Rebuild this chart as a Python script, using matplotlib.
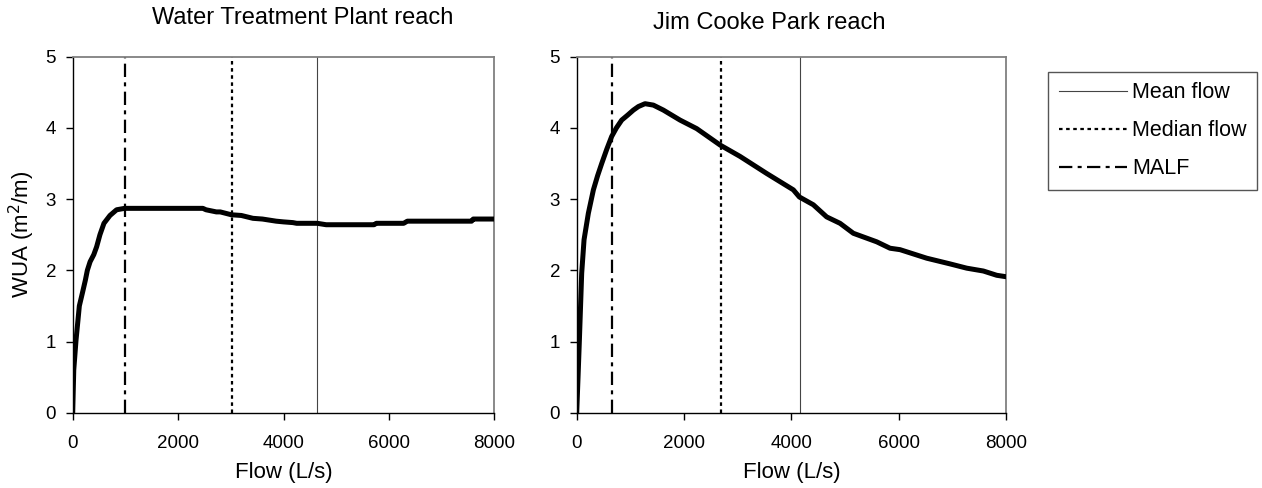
import matplotlib
matplotlib.use("Agg")
import matplotlib.pyplot as plt

plt.rcParams['font.family'] = ['Liberation Sans', 'DejaVu Sans']

# Water Treatment Plant reach
wtp_flow = [0, 20, 63, 100, 126, 190, 240, 278, 330, 400, 454, 517, 593, 707, 833, 984,
            1500, 2000, 2470, 2530, 2726, 2800, 3010, 3200, 3420, 3600, 3861, 4000, 4177,
            4250, 4640, 4810, 5720, 5760, 6280, 6350, 7570, 7600, 8000]
wtp_wua = [0, 0.6, 1.02, 1.3, 1.5, 1.7, 1.86, 2.0, 2.12, 2.22, 2.33, 2.5, 2.66, 2.77, 2.85, 2.87,
           2.87, 2.87, 2.87, 2.85, 2.82, 2.82, 2.78, 2.77, 2.73, 2.72, 2.69, 2.68, 2.67,
           2.66, 2.66, 2.64, 2.64, 2.66, 2.66, 2.69, 2.69, 2.72, 2.72]

# Jim Cooke Park reach
jcp_flow = [0, 25, 50, 93, 137, 217, 311, 390, 466, 560, 652, 740, 839, 950, 1056, 1150,
            1273, 1429, 1615, 1925, 2236, 2671, 3043, 3540, 4037, 4149, 4410, 4658, 4907,
            5155, 5591, 5839, 6025, 6522, 6957, 7268, 7578, 7827, 8000]
jcp_wua = [0, 0.5, 1.02, 1.96, 2.43, 2.8, 3.13, 3.33, 3.5, 3.7, 3.88, 4.0, 4.11, 4.18, 4.25, 4.3,
           4.34, 4.32, 4.25, 4.11, 3.99, 3.76, 3.6, 3.36, 3.13, 3.03, 2.92, 2.75, 2.66,
           2.52, 2.40, 2.31, 2.29, 2.17, 2.09, 2.03, 1.99, 1.93, 1.91]

# reference flows: mean, median, MALF
wtp_ref = {'mean': 4640, 'median': 3020, 'malf': 1000}
jcp_ref = {'mean': 4160, 'median': 2680, 'malf': 650}

titles = ['Water Treatment Plant reach', 'Jim Cooke Park reach']
x_ticks = [0, 2000, 4000, 6000, 8000]
y_ticks = [0, 1, 2, 3, 4, 5]

FS = 13.5       # tick labels
FS_LAB = 16     # axis labels
FS_TIT = 17     # titles
FS_LEG = 15.5   # legend
W, H = 1262, 488
fig = plt.figure(figsize=(W / 100, H / 100), dpi=100)

ax1 = fig.add_axes([72.7 / W, (H - 412.7) / H, (494.3 - 72.7) / W, 356 / H])
ax2 = fig.add_axes([576.7 / W, (H - 412.7) / H, (1006 - 576.7) / W, 356 / H])

handles = None
for ax, fx, fy, ref in [(ax1, wtp_flow, wtp_wua, wtp_ref), (ax2, jcp_flow, jcp_wua, jcp_ref)]:
    h_mean = ax.axvline(ref['mean'], color='#444444', lw=0.8, label='Mean flow')
    h_med = ax.axvline(ref['median'], color='black', lw=1.6, linestyle=(0, (1.6, 1.6)),
                       label='Median flow')
    h_malf = ax.axvline(ref['malf'], color='black', lw=1.6,
                        linestyle=(0, (6, 2.4, 1.8, 2.4)), label='MALF')
    ax.plot(fx, fy, color='black', lw=3.6, solid_joinstyle='round', zorder=5)
    ax.set_xlim(0, 8000)
    ax.set_ylim(0, 5)
    ax.set_xticks(x_ticks)
    ax.set_yticks(y_ticks)
    ax.tick_params(direction='out', length=5, width=1, labelsize=FS, color='black')
    ax.tick_params(axis='x', pad=11)
    ax.tick_params(axis='y', pad=7)
    for s in ['top', 'right']:
        ax.spines[s].set_color('#808080')
        ax.spines[s].set_linewidth(1.3)
    for s in ['left', 'bottom']:
        ax.spines[s].set_color('black')
        ax.spines[s].set_linewidth(1)
    ax.set_xlabel('Flow (L/s)', fontsize=FS_LAB, labelpad=7)
    handles = [h_mean, h_med, h_malf]

ax1.set_ylabel('WUA (m$^2$/m)', fontsize=FS_LAB, labelpad=6)

fig.text(303 / W, 1 - 17.5 / H, titles[0], fontsize=FS_TIT, ha='center', va='center')
fig.text(769 / W, 1 - 23 / H, titles[1], fontsize=FS_TIT, ha='center', va='center')

leg = fig.legend(handles=handles, loc='upper left',
                 bbox_to_anchor=(1048.3 / W, 1 - 71.7 / H), bbox_transform=fig.transFigure,
                 fontsize=FS_LEG, frameon=True, fancybox=False, borderaxespad=0,
                 handlelength=3.15, handletextpad=0.23, labelspacing=0.78,
                 borderpad=0.5, framealpha=1)
leg.get_frame().set_edgecolor('#555555')
leg.get_frame().set_linewidth(1)

fig.savefig('out.png', dpi=100)
